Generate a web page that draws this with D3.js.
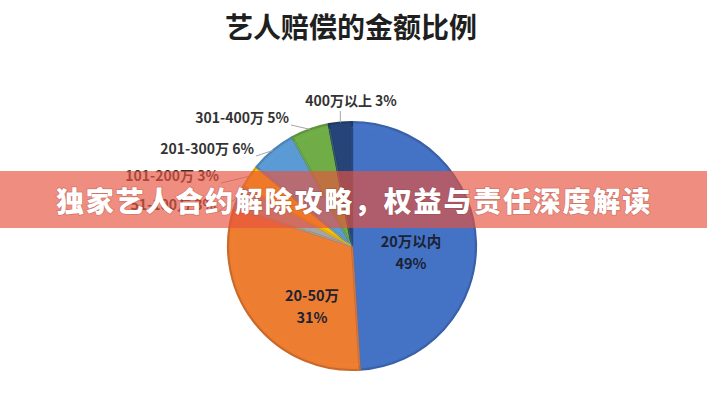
<!DOCTYPE html>
<html>
<head>
<meta charset="utf-8">
<script src="https://cdn.jsdelivr.net/npm/d3@7"></script>
<style>
  html, body { margin: 0; padding: 0; background: #fff; }
  svg { display: block; font-family: "Noto Sans CJK SC", "Noto Sans", sans-serif; }
</style>
</head>
<body>
<svg id="chart" width="707" height="400"></svg>
<script>
// ---- data ----
const title = "艺人赔偿的金额比例";
const bannerText = "独家艺人合约解除攻略，权益与责任深度解读";
const categories = ["20万以内", "20-50万", "51-100万", "101-200万", "201-300万", "301-400万", "400万以上"];
const shares = [49, 31, 3, 3, 6, 5, 3];
const colors = ["#4472C4", "#ED7D31", "#A5A5A5", "#FFC000", "#5B9BD5", "#70AD47", "#264478"];

// ---- layout (not data) ----
const W = 707, H = 400;
const cx = 352, cy = 246, R = 124;
// inner labels: [dx, dy] of the two-line label centre relative to pie centre
const innerLabelPos = { 0: [59, 5], 1: [-40, 59] };
// outer labels: label anchor [x, y] and text-anchor
const outerLabelPos = {
  2: { x: 216, y: 204, anchor: "end" },
  3: { x: 219, y: 175, anchor: "end" },
  4: { x: 254, y: 148, anchor: "end" },
  5: { x: 289, y: 117, anchor: "end" },
  6: { x: 351, y: 100, anchor: "middle" }
};

const svg = d3.select("#chart");
svg.append("rect").attr("width", W).attr("height", H).attr("fill", "#fff");

// title
svg.append("text")
  .attr("x", 351).attr("y", 26)
  .attr("text-anchor", "middle").attr("dominant-baseline", "central")
  .attr("font-size", 28).attr("font-weight", 700).attr("fill", "#1f1f1f")
  .text(title);

const data = categories.map((c, i) => ({ cat: c, value: shares[i], color: colors[i], i }));
const pie = d3.pie().value(d => d.value).sort(null);
const arcs = pie(data);
const arc = d3.arc().innerRadius(0).outerRadius(R);

const g = svg.append("g").attr("transform", `translate(${cx},${cy})`);

g.selectAll("path.slice").data(arcs).enter().append("path")
  .attr("class", "slice")
  .attr("d", arc)
  .attr("fill", d => d.data.color)
  .attr("stroke", d => d3.color(d.data.color).darker(0.45))
  .attr("stroke-width", 2.2)
  .attr("stroke-linejoin", "round");

// subtle inner highlight (bevel look)
const innerArc = d3.arc().innerRadius(0).outerRadius(R - 5);
g.selectAll("path.hl").data(arcs).enter().append("path")
  .attr("class", "hl")
  .attr("d", innerArc)
  .attr("fill", "none")
  .attr("stroke", d => d3.color(d.data.color).brighter(0.15))
  .attr("stroke-width", 1)
  .attr("opacity", 0.5);

// inner labels
arcs.forEach(a => {
  const p = innerLabelPos[a.data.i];
  if (!p) return;
  const t = g.append("text")
    .attr("text-anchor", "middle")
    .attr("font-size", 14.5).attr("font-weight", 700).attr("fill", "#1b2233");
  t.append("tspan").attr("x", p[0]).attr("y", p[1] - 11).attr("dominant-baseline", "central").text(a.data.cat);
  t.append("tspan").attr("x", p[0]).attr("y", p[1] + 11).attr("dominant-baseline", "central").text(a.data.value + "%");
});

// outer labels with leader lines
arcs.forEach(a => {
  const L = outerLabelPos[a.data.i];
  if (!L) return;
  const mid = (a.startAngle + a.endAngle) / 2;
  const px = cx + R * Math.sin(mid), py = cy - R * Math.cos(mid);
  let lx, ly;
  if (L.anchor === "end") { lx = L.x + 2; ly = L.y + 8; }
  else { lx = px; ly = L.y + 11; }
  svg.append("line")
    .attr("x1", lx).attr("y1", ly).attr("x2", px).attr("y2", py)
    .attr("stroke", "#a6a6a6").attr("stroke-width", 1);
  svg.append("text")
    .attr("x", L.x).attr("y", L.y)
    .attr("text-anchor", L.anchor).attr("dominant-baseline", "central")
    .attr("font-size", 14).attr("font-weight", 700).attr("fill", "#333")
    .text(a.data.cat + " " + a.data.value + "%");
});

// overlay banner
svg.append("rect")
  .attr("x", 0).attr("y", 171).attr("width", W).attr("height", 57)
  .attr("fill", "rgb(230,82,62)").attr("opacity", 0.66);
svg.append("text")
  .attr("x", 354).attr("y", 200)
  .attr("text-anchor", "middle").attr("dominant-baseline", "central")
  .attr("font-size", 28).attr("font-weight", 900).attr("fill", "#fff")
  .attr("letter-spacing", 1.8)
  .style("paint-order", "stroke").attr("stroke", "rgba(120,40,30,0.25)").attr("stroke-width", 1.5)
  .text(bannerText);
</script>
</body>
</html>
